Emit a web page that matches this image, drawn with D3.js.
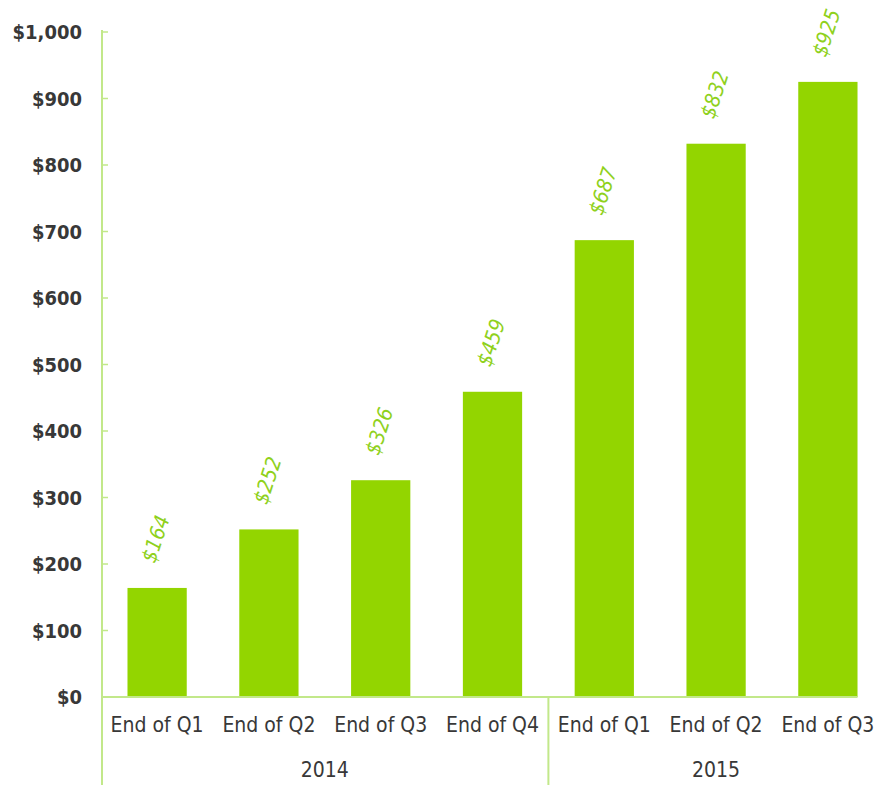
<!DOCTYPE html>
<html>
<head>
<meta charset="utf-8">
<script src="https://cdn.jsdelivr.net/npm/d3@7"></script>
<style>
  html, body { margin: 0; padding: 0; background: #fff; }
  svg text { font-family: 'DejaVu Sans Condensed', 'DejaVu Sans', sans-serif; font-stretch: condensed; }
</style>
</head>
<body>
<div id="chart"></div>
<script>
// chart data
var quarters = ['End of Q1', 'End of Q2', 'End of Q3', 'End of Q4', 'End of Q1', 'End of Q2', 'End of Q3'];
var years = ['2014', '2014', '2014', '2014', '2015', '2015', '2015'];
var values = [164, 252, 326, 459, 687, 832, 925];
var yTicks = [0, 100, 200, 300, 400, 500, 600, 700, 800, 900, 1000];

var WIDTH = 884, HEIGHT = 785;
var BAR_COLOR = '#93d500';
var AXIS_COLOR = '#c2e88a';
var LABEL_COLOR = '#8fd11c';

var svg = d3.select('#chart').append('svg')
    .attr('width', WIDTH)
    .attr('height', HEIGHT);

var keys = d3.range(values.length);

var x = d3.scaleBand()
    .domain(keys)
    .range([102, 883])
    .paddingInner(0.47)
    .paddingOuter(0.228);

var y = d3.scaleLinear()
    .domain([0, 1000])
    .range([697, 32]);

// y axis line (runs down through the category area)
svg.append('line')
    .attr('x1', 102).attr('x2', 102)
    .attr('y1', 30).attr('y2', HEIGHT)
    .attr('stroke', AXIS_COLOR).attr('stroke-width', 2);

// y ticks + labels
var fmt = d3.format(',');
var yAxis = svg.append('g');
yAxis.selectAll('line.tick')
    .data(yTicks)
    .enter().append('line')
    .attr('x1', 102).attr('x2', 108)
    .attr('y1', function(d) { return y(d); })
    .attr('y2', function(d) { return y(d); })
    .attr('stroke', AXIS_COLOR).attr('stroke-width', 1.5);
yAxis.selectAll('text')
    .data(yTicks)
    .enter().append('text')
    .attr('x', 82)
    .attr('y', function(d) { return y(d); })
    .attr('dy', '0.35em')
    .attr('text-anchor', 'end')
    .attr('font-size', 20)
    .attr('font-weight', 'bold')
    .attr('fill', '#383838')
    .text(function(d) { return '$' + fmt(d); });

// bars
svg.selectAll('rect.bar')
    .data(keys)
    .enter().append('rect')
    .attr('class', 'bar')
    .attr('x', function(i) { return x(i); })
    .attr('width', x.bandwidth())
    .attr('y', function(i) { return y(values[i]); })
    .attr('height', function(i) { return y(0) - y(values[i]); })
    .attr('fill', BAR_COLOR);

// baseline
var lastKey = keys[keys.length - 1];
svg.append('line')
    .attr('x1', 102).attr('x2', x(lastKey) + x.bandwidth())
    .attr('y1', y(0)).attr('y2', y(0))
    .attr('stroke', AXIS_COLOR).attr('stroke-width', 2);

// rotated value labels
svg.selectAll('text.value')
    .data(keys)
    .enter().append('text')
    .attr('class', 'value')
    .attr('transform', function(i) {
        var cx = x(i) + x.bandwidth() / 2 - 2;
        return 'translate(' + cx + ',' + (y(values[i]) - 24) + ') rotate(-72)';
    })
    .attr('font-size', 21)
    .attr('font-style', 'italic')
    .attr('fill', LABEL_COLOR)
    .text(function(i) { return '$' + values[i]; });

// quarter labels
svg.selectAll('text.quarter')
    .data(keys)
    .enter().append('text')
    .attr('class', 'quarter')
    .attr('x', function(i) { return x(i) + x.bandwidth() / 2; })
    .attr('y', 725)
    .attr('dy', '0.35em')
    .attr('text-anchor', 'middle')
    .attr('font-size', 21)
    .attr('fill', '#383838')
    .text(function(i) { return quarters[i]; });

// year groups
var groups = d3.groups(keys, function(i) { return years[i]; });
var gap = x.step() - x.bandwidth();
groups.forEach(function(g, gi) {
    var first = g[1][0], last = g[1][g[1].length - 1];
    var cx = (x(first) + x(last) + x.bandwidth()) / 2;
    svg.append('text')
        .attr('x', cx)
        .attr('y', 770)
        .attr('dy', '0.35em')
        .attr('text-anchor', 'middle')
        .attr('font-size', 21)
        .attr('fill', '#383838')
        .text(g[0]);
    if (gi > 0) {
        var sx = x(first) - gap / 2;
        svg.append('line')
            .attr('x1', sx).attr('x2', sx)
            .attr('y1', y(0)).attr('y2', HEIGHT)
            .attr('stroke', AXIS_COLOR).attr('stroke-width', 2);
    }
});
</script>
</body>
</html>
